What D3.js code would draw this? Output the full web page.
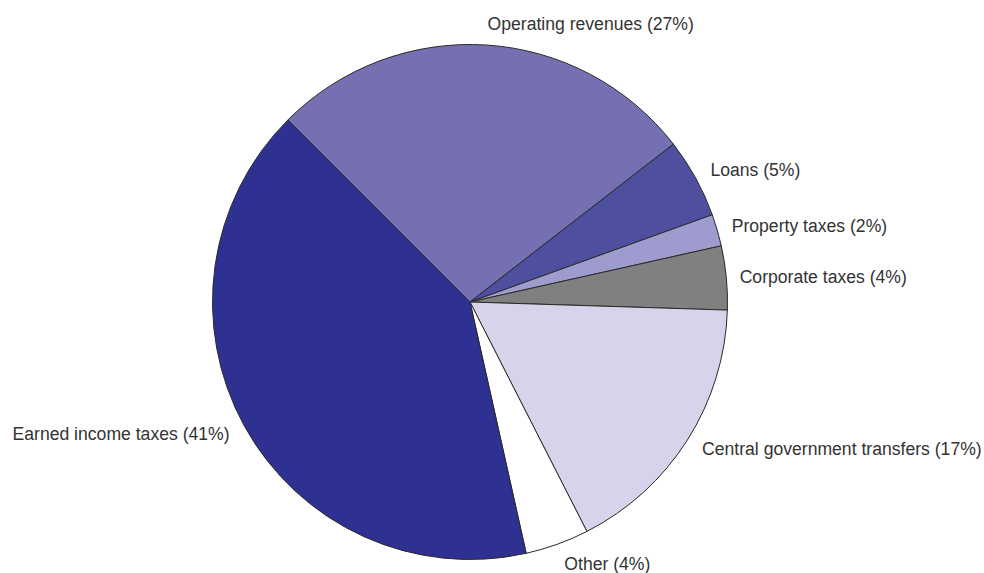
<!DOCTYPE html>
<html>
<head>
<meta charset="utf-8">
<script src="https://cdn.jsdelivr.net/npm/d3@7"></script>
<style>
  html, body { margin: 0; padding: 0; background: #fff; }
  svg { display: block; }
  text { font-family: "Liberation Sans", Arial, sans-serif; fill: #333333; }
</style>
</head>
<body>
<svg id="chart" width="984" height="573"></svg>
<script>
// Revenue sources, in clockwise order starting at the upper-left boundary
const categories = [
  "Operating revenues",
  "Loans",
  "Property taxes",
  "Corporate taxes",
  "Central government transfers",
  "Other",
  "Earned income taxes"
];
const shares = [27, 5, 2, 4, 17, 4, 41];
const colors = ["#7570b2", "#4f4fa0", "#9e9bce", "#808080", "#d5d4eb", "#ffffff", "#2e3092"];

const svg = d3.select("#chart");
const cx = 470, cy = 302, radius = 257.5;

const data = categories.map((c, i) => ({ name: c, value: shares[i], color: colors[i] }));

const startAngle = -45 * Math.PI / 180;
const pie = d3.pie()
  .value(d => d.value)
  .sort(null)
  .startAngle(startAngle)
  .endAngle(startAngle + 2 * Math.PI);

const arcs = pie(data);
const arc = d3.arc().innerRadius(0).outerRadius(radius);

const g = svg.append("g").attr("transform", `translate(${cx},${cy})`);

g.selectAll("path.slice")
  .data(arcs)
  .join("path")
  .attr("class", "slice")
  .attr("d", arc)
  .attr("fill", d => d.data.color)
  .attr("stroke", "#2a2a2a")
  .attr("stroke-width", 1)
  .attr("stroke-linejoin", "round");

// Labels sit just outside the rim at each slice's mid-angle; the gap grows
// a little toward the top and bottom so text clears the rim vertically
g.selectAll("text.label")
  .data(arcs)
  .join("text")
  .attr("class", "label")
  .each(function (d) {
    const a = (d.startAngle + d.endAngle) / 2;
    const r = radius + 12.5 + 9 * Math.abs(Math.cos(a));
    const x = r * Math.sin(a);
    const y = -r * Math.cos(a);
    d3.select(this)
      .attr("x", x)
      .attr("y", y)
      .attr("dy", "0.35em")
      .attr("text-anchor", Math.sin(a) >= 0 ? "start" : "end");
  })
  .style("font-size", "17.6px")
  .text(d => `${d.data.name} (${d.data.value}%)`);
</script>
</body>
</html>
